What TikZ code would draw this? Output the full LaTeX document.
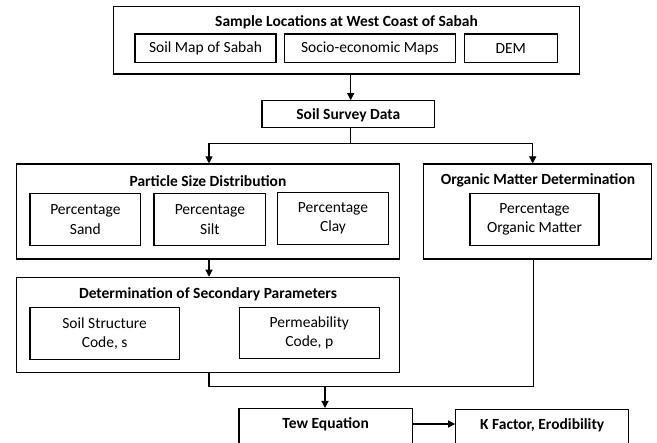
\documentclass[tikz,border=0pt]{standalone}
\usepackage{fontspec}
\setmainfont{Carlito}
\usetikzlibrary{arrows.meta}
\tikzset{
  box/.style={draw=black, line width=1.1pt, rectangle, inner sep=0pt, fill=white},
  ttl/.style={font=\fontsize{15.5}{19}\selectfont\bfseries, inner sep=0pt},
  txt/.style={font=\fontsize{15.5}{19.3}\selectfont, align=center, inner sep=0pt},
  conn/.style={draw=black, line width=1.1pt},
  arr/.style={conn, -{Triangle[length=7pt,width=7pt]}}
}
\begin{document}
\begin{tikzpicture}[x=1pt,y=-1pt]
\useasboundingbox (0,0) rectangle (657,443);
\clip (0,0) rectangle (657,443);
\fill[white] (0,0) rectangle (657,443);

% top block
\node[box, minimum width=466pt, minimum height=67.3pt] (top) at (346.3,40.35) {};
\node[ttl] (toptitle) at (346.5,22.7) {Sample Locations at West Coast of Sabah};
\node[box, txt, minimum width=141pt, minimum height=28.3pt] (soilmap) at (205.5,48.2) {Soil Map of Sabah};
\node[box, txt, minimum width=171.7pt, minimum height=28.3pt] (socio) at (369.9,48.2) {Socio-economic Maps};
\node[box, txt, minimum width=93.3pt, minimum height=28.3pt] (dem) at (510.7,48.2) {DEM};

% soil survey
\node[box, minimum width=172.7pt, minimum height=27pt] (ssd) at (348.35,114.2) {};
\node[ttl] (ssdtxt) at (348.35,115) {Soil Survey Data};

% particle size distribution
\node[box, minimum width=382.6pt, minimum height=95pt] (psd) at (208,211.5) {};
\node[ttl] (psdtitle) at (208,180.7) {Particle Size Distribution};
\node[box, txt, minimum width=110.7pt, minimum height=52.4pt] (sand) at (85.35,219.5) {Percentage\\Sand};
\node[box, txt, minimum width=111.7pt, minimum height=52.4pt] (silt) at (209.85,219.5) {Percentage\\Silt};
\node[box, txt, minimum width=110.6pt, minimum height=52pt] (clay) at (333,218.3) {Percentage\\Clay};

% organic matter
\node[box, minimum width=228.4pt, minimum height=95pt] (omd) at (537.5,211.5) {};
\node[ttl] (omdtitle) at (538,180.7) {Organic Matter Determination};
\node[box, txt, minimum width=129pt, minimum height=52.4pt] (omi) at (534.5,219.5) {Percentage\\Organic Matter};

% secondary parameters
\node[box, minimum width=382.6pt, minimum height=95.4pt] (dsp) at (208,325) {};
\node[ttl] (dsptitle) at (208,294) {Determination of Secondary Parameters};
\node[box, txt, minimum width=149.3pt, minimum height=52pt] (ss) at (104.65,333.3) {Soil Structure\\Code, s};
\node[box, txt, minimum width=140pt, minimum height=51pt] (perm) at (309.3,332.8) {Permeability\\Code, p};

% bottom
\node[box, minimum width=173.3pt, minimum height=45pt, anchor=north] (tew) at (325.65,408) {};
\node[ttl] (tewtxt) at (325.65,424.5) {Tew Equation};
\node[box, minimum width=173pt, minimum height=45pt, anchor=north] (kf) at (542.2,409) {};
\node[ttl] (kftxt) at (542.2,425) {K Factor, Erodibility};

% connectors
\coordinate (c1) at (350.7,74);
\coordinate (split) at (350.7,143.3);
\coordinate (psdin) at (209,143.3);
\coordinate (omdin) at (532.7,143.3);
\coordinate (dspout) at (209,386.7);
\coordinate (omdout) at (533.3,386.7);
\coordinate (tewin) at (325,386.7);

\draw[arr] (c1) -- (c1 |- ssd.north);
\draw[conn] (c1 |- ssd.south) -- (split);
\draw[conn] (psdin) -- (omdin);
\draw[arr] (psdin) -- (psdin |- psd.north);
\draw[arr] (omdin) -- (omdin |- omd.north);
\draw[arr] (psdin |- psd.south) -- (psdin |- dsp.north);
\draw[conn] (dspout |- dsp.south) -- (dspout) -- (omdout) -- (omdout |- omd.south);
\draw[arr] (tewin) -- (tewin |- tew.north);
\draw[arr] (tew.east |- 0,424) -- (kf.west |- 0,424);
\end{tikzpicture}
\end{document}
